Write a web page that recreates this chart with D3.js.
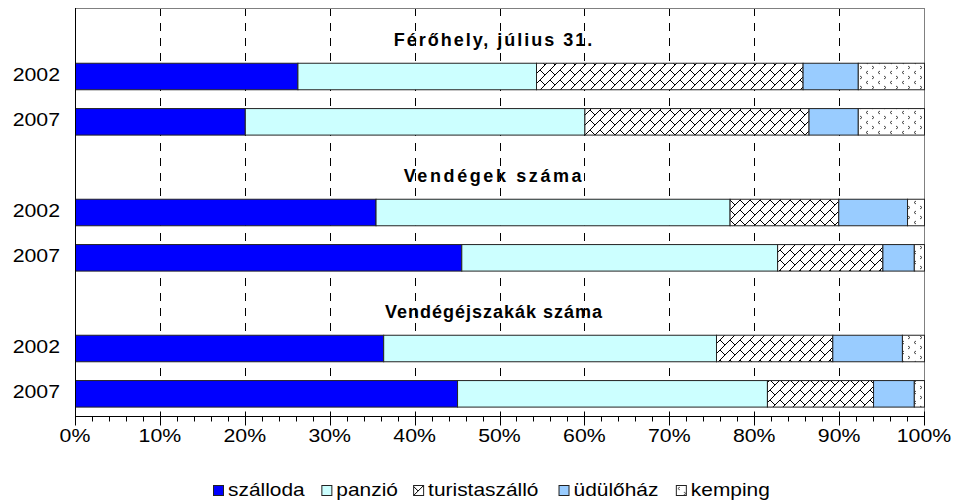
<!DOCTYPE html>
<html>
<head>
<meta charset="utf-8">
<script src="https://cdn.jsdelivr.net/npm/d3@7"></script>
<style>
  body { margin: 0; background: #fff; }
  text { font-family: "Liberation Sans", Arial, sans-serif; }
</style>
</head>
<body>
<script>
// sections and rows (a blank row carries each section title)
const sections = ["Férőhely, július 31.", "Vendégek száma", "Vendégéjszakák száma"];
const years = ["2002", "2007"];
const series = ["szálloda", "panzió", "turistaszálló", "üdülőház", "kemping"];

// percentages per row: F2002, F2007, V2002, V2007, E2002, E2007
const szalloda = [26.2, 20.0, 35.4, 45.5, 36.3, 45.0];
const panzio = [28.1, 40.0, 41.7, 37.2, 39.2, 36.5];
const turistaszallo = [31.4, 26.4, 12.8, 12.4, 13.7, 12.5];
const udulohaz = [6.5, 5.8, 8.1, 3.7, 8.2, 4.8];
const kemping = [7.8, 7.8, 2.0, 1.2, 2.6, 1.2];

const xTicks = [0, 10, 20, 30, 40, 50, 60, 70, 80, 90, 100];

var w = 954, h = 502;
var pLeft = 75, pRight = 924, pTop = 8, pBottom = 416;

// the original text is a bit wider than Arial
function widen(sel, k) {
    sel.each(function () {
        var len = this.getComputedTextLength();
        d3.select(this).attr("textLength", len * k).attr("lengthAdjust", "spacingAndGlyphs");
    });
}

// build rows: blank title row, then two years per section
var rows = [];
sections.forEach(function (s, si) {
    rows.push({ key: "t" + si, title: s });
    years.forEach(function (y, yi) {
        var i = si * 2 + yi;
        rows.push({
            key: "r" + i, label: y,
            "szálloda": szalloda[i], "panzió": panzio[i], "turistaszálló": turistaszallo[i],
            "üdülőház": udulohaz[i], "kemping": kemping[i]
        });
    });
});
var dataRows = rows.filter(function (d) { return d.label; });

var svg = d3.select("body").append("svg")
    .attr("width", w).attr("height", h);

// patterns
var defs = svg.append("defs");
var brick = defs.append("pattern").attr("id", "brick")
    .attr("patternUnits", "userSpaceOnUse").attr("width", 10).attr("height", 10);
brick.append("rect").attr("width", 10).attr("height", 10).attr("fill", "#fff");
brick.append("path")
    .attr("d", "M-1,11 L11,-1 M-1,1 L1,-1 M9,11 L11,9 M0,0 L5,5")
    .attr("stroke", "#000").attr("stroke-width", 1).attr("fill", "none");

var confetti = defs.append("pattern").attr("id", "confetti")
    .attr("patternUnits", "userSpaceOnUse").attr("width", 12).attr("height", 10);
confetti.append("rect").attr("width", 12).attr("height", 10).attr("fill", "#fff");
confetti.append("path")
    .attr("d", "M4,1 L2,2.5 L4,4 M8,6 L10,7.5 L8,9")
    .attr("stroke", "#333").attr("stroke-width", 0.9).attr("fill", "none");

var colors = {
    "szálloda": "#0000ff",
    "panzió": "#ccffff",
    "turistaszálló": "url(#brick)",
    "üdülőház": "#99ccff",
    "kemping": "url(#confetti)"
};

var x = d3.scaleLinear().domain([0, 100]).range([pLeft, pRight]);
var y = d3.scaleBand().domain(rows.map(function (d) { return d.key; }))
    .range([pTop, pBottom]).paddingInner(0.415).paddingOuter(0.2075);

// gridlines
svg.append("g").selectAll("line")
    .data(xTicks.slice(1, -1))
    .enter().append("line")
    .attr("x1", function (d) { return Math.round(x(d)) + 0.5; })
    .attr("x2", function (d) { return Math.round(x(d)) + 0.5; })
    .attr("y1", pTop).attr("y2", pBottom)
    .attr("stroke", "#000").attr("stroke-width", 1)
    .attr("stroke-dasharray", "8,7");

// plot border
svg.append("rect")
    .attr("x", pLeft + 0.5).attr("y", pTop + 0.5)
    .attr("width", pRight - pLeft).attr("height", pBottom - pTop)
    .attr("fill", "none").attr("stroke", "#808080");

// bars
var stack = d3.stack().keys(series)(dataRows);
svg.append("g").selectAll("g")
    .data(stack)
    .enter().append("g")
    .attr("fill", function (d) { return colors[d.key]; })
    .selectAll("rect")
    .data(function (d) { return d; })
    .enter().append("rect")
    .attr("x", function (d) { return x(d[0]) + 0.5; })
    .attr("y", function (d) { return y(d.data.key) + 0.5; })
    .attr("width", function (d) { return x(d[1]) - x(d[0]); })
    .attr("height", y.bandwidth())
    .attr("stroke", "#222").attr("stroke-width", 1);

// section titles
var titleSpacing = [2, 2.6, 1];
svg.append("g").selectAll("text")
    .data(rows.filter(function (d) { return d.title; }))
    .enter().append("text")
    .attr("x", 494)
    .attr("y", function (d) { return y(d.key) + y.bandwidth() / 2 + 15; })
    .attr("text-anchor", "middle")
    .attr("font-size", 18).attr("font-weight", "bold")
    .attr("letter-spacing", function (d, i) { return titleSpacing[i]; })
    .text(function (d) { return d.title; });

// y labels
svg.append("g").selectAll("text")
    .data(dataRows)
    .enter().append("text")
    .attr("x", 60)
    .attr("y", function (d) { return y(d.key) + y.bandwidth() / 2 + 5; })
    .attr("text-anchor", "end")
    .attr("font-size", 19)
    .text(function (d) { return d.label; })
    .call(widen, 1.12);

// left axis line
svg.append("line")
    .attr("x1", pLeft + 0.5).attr("x2", pLeft + 0.5)
    .attr("y1", pTop).attr("y2", pBottom + 1)
    .attr("stroke", "#000");

// x axis
var xAxis = svg.append("g").attr("transform", "translate(0," + (pBottom + 0.5) + ")");
xAxis.append("line").attr("x1", pLeft).attr("x2", pRight + 1).attr("stroke", "#000");
xAxis.selectAll(".minor")
    .data(d3.range(2, 100, 2).filter(function (d) { return d % 10 !== 0; }))
    .enter().append("line").attr("class", "minor")
    .attr("x1", function (d) { return Math.round(x(d)) + 0.5; })
    .attr("x2", function (d) { return Math.round(x(d)) + 0.5; })
    .attr("y1", 0).attr("y2", 5).attr("stroke", "#000");
xAxis.selectAll(".major")
    .data(xTicks)
    .enter().append("line").attr("class", "major")
    .attr("x1", function (d) { return Math.round(x(d)) + 0.5; })
    .attr("x2", function (d) { return Math.round(x(d)) + 0.5; })
    .attr("y1", -5).attr("y2", 9).attr("stroke", "#000");
xAxis.selectAll("text")
    .data(xTicks)
    .enter().append("text")
    .attr("x", function (d) { return x(d); })
    .attr("y", 25)
    .attr("text-anchor", "middle")
    .attr("font-size", 19)
    .text(function (d) { return d + "%"; })
    .call(widen, 1.12);

// legend
var legend = svg.append("g").attr("transform", "translate(213,496)");
var lx = 0;
series.forEach(function (s) {
    var g = legend.append("g").attr("transform", "translate(" + lx + ",0)");
    g.append("rect").attr("x", 0.5).attr("y", -10.5).attr("width", 10).attr("height", 10)
        .attr("fill", colors[s]).attr("stroke", "#222");
    var t = g.append("text").attr("x", 15).attr("y", 0)
        .attr("font-size", 19).text(s).call(widen, 1.1);
    lx += 15 + t.node().getComputedTextLength() * 1.1 + 9;
});
</script>
</body>
</html>
